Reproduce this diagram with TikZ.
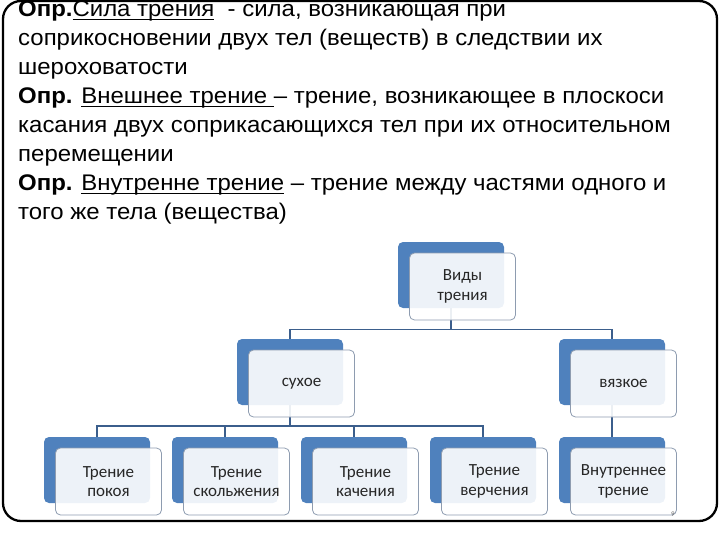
\documentclass[tikz,border=0pt]{standalone}
\usepackage{fontspec}
\setmainfont[FakeStretch=1.06]{Liberation Sans}
\newfontfamily\boxfont{Carlito}
\newcommand\myul[1]{\setbox0\hbox{#1}\rlap{\rule[-3pt]{\wd0}{1.2pt}}\box0\relax}
\definecolor{accblue}{HTML}{4F81BD}
\definecolor{connblue}{HTML}{3B5E8C}
\definecolor{frontline}{HTML}{8E9CB0}
\definecolor{boxtext}{HTML}{262626}
\pgfdeclarelayer{bg}
\pgfsetlayers{bg,main}
\begin{document}
\begin{tikzpicture}[x=1pt,y=-1pt,
  txt/.style={inner sep=0pt, anchor=base west, font=\fontsize{22.6}{25}\selectfont},
  back/.style={fill=accblue, rounded corners=5pt, minimum width=106pt, minimum height=66pt, inner sep=0pt},
  front/.style={fill=white, fill opacity=0.9, text opacity=1, draw=frontline, line width=0.8pt, rounded corners=5pt, minimum width=106pt, minimum height=67pt, inner sep=0pt, align=center, text=boxtext, font=\boxfont\fontsize{17}{19.5}\selectfont},
  conn/.style={draw=connblue, line width=1.8pt}]
\useasboundingbox (0,0) rectangle (720,540);
\draw[line width=2.3pt, rounded corners=18pt] (3,1) rectangle (717,521);
% definitions text
\node[txt] (t1) at (18,17) {\textbf{Опр.}\myul{Сила трения}\ \ - сила, возникающая при};
\node[txt] (t2) at (18,46) {соприкосновении двух тел (веществ) в следствии их};
\node[txt] (t3) at (18,75) {шероховатости};
\node[txt] (t4) at (18,104) {\textbf{Опр.} \myul{Внешнее трение\ }– трение, возникающее в плоскоси};
\node[txt] (t5) at (18,133) {касания двух соприкасающихся тел при их относительном};
\node[txt] (t6) at (18,162) {перемещении};
\node[txt] (t7) at (18,191) {\textbf{Опр.} \myul{Внутренне трение} – трение между частями одного и};
\node[txt] (t8) at (18,220) {того же тела (вещества)};
% back boxes
\node[back] (b0) at (451,275) {};
\node[back] (b1) at (290,372) {};
\node[back] (b2) at (612,372) {};
\node[back] (b3) at (97,470) {};
\node[back] (b4) at (225,470) {};
\node[back] (b5) at (354,470) {};
\node[back] (b6) at (483,470) {};
\node[back] (b7) at (612,470) {};
% front boxes
\node[front] (f0) at (462.5,286.5) {Виды\\трения};
\node[front] (f1) at (301.5,383.5) {сухое};
\node[front] (f2) at (623.5,383.5) {вязкое};
\node[front] (f3) at (108.5,481.5) {Трение\\покоя};
\node[front] (f4) at (236.5,481.5) {Трение\\скольжения};
\node[front] (f5) at (365.5,481.5) {Трение\\качения};
\node[front] (f6) at (494.5,481.5) {Трение\\верчения};
\node[front] (f7) at (623.5,481.5) {Внутреннее\\трение};
\node[inner sep=0pt, text=black!60, font=\boxfont\fontsize{7}{8}\selectfont] (pg) at (673,514) {9};
% connectors
\coordinate (j1) at (451,329.5);
\coordinate (j2) at (290,426);
\begin{pgfonlayer}{bg}
\draw[conn] (b0.center) -- (b0.center |- j1) -| (b1.center);
\draw[conn] (b0.center |- j1) -| (b2.center);
\draw[conn] (b1.center) -- (j2) -| (b3.center);
\draw[conn] (j2) -| (b4.center);
\draw[conn] (j2) -| (b5.center);
\draw[conn] (j2) -| (b6.center);
\draw[conn] (b2.center) -- (b7.center);
\end{pgfonlayer}
\end{tikzpicture}
\end{document}
